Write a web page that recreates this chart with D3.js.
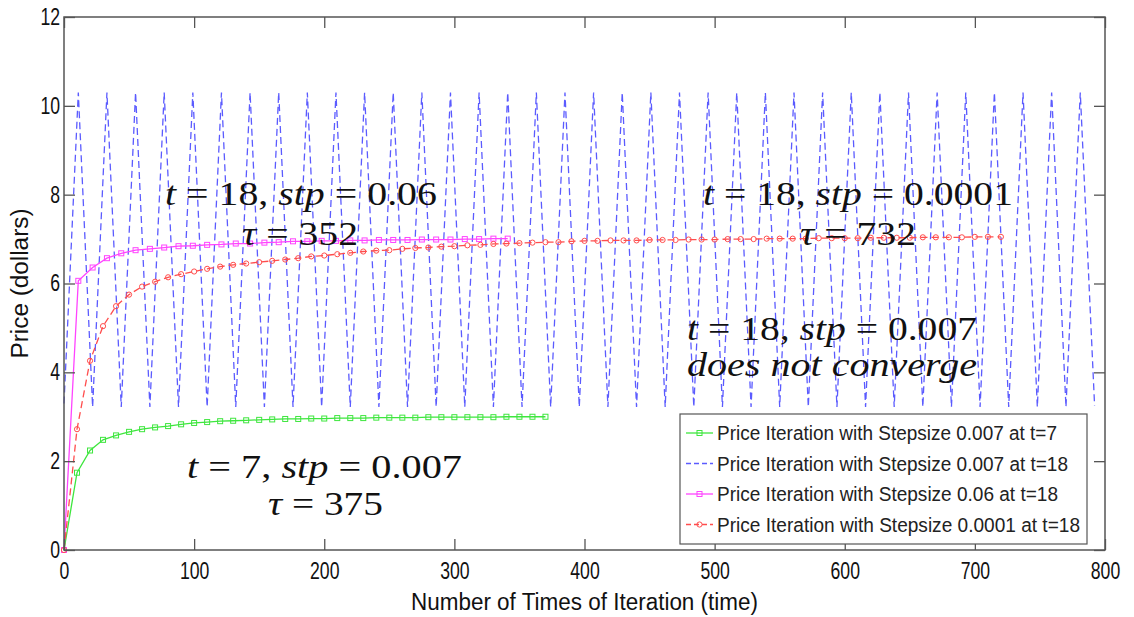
<!DOCTYPE html>
<html>
<head>
<meta charset="utf-8">
<script src="https://cdn.jsdelivr.net/npm/d3@7"></script>
<style>
  body { margin: 0; background: #fff; }
  svg { display: block; }
</style>
</head>
<body>
<div id="chart"></div>
<script>
// iterations and prices
const greenT = [0, 10, 20, 30, 40, 50, 60, 70, 80, 90, 100, 110, 120, 130, 140, 150, 160, 170, 180, 190,
  200, 210, 220, 230, 240, 250, 260, 270, 280, 290, 300, 310, 320, 330, 340, 350, 360, 370];
const greenP = [0, 1.74, 2.24, 2.48, 2.58, 2.66, 2.72, 2.76, 2.79, 2.83, 2.86, 2.88, 2.90, 2.91, 2.92, 2.93,
  2.94, 2.95, 2.95, 2.96, 2.96, 2.97, 2.97, 2.97, 2.98, 2.98, 2.98, 2.98, 2.99, 2.99, 2.99, 2.99, 2.99, 2.99,
  3.0, 3.0, 3.0, 3.0];

const blueT = [0, 11, 22, 33, 44, 55, 66, 77, 88, 99, 110, 121, 132, 143, 154, 165, 176, 187, 198, 209,
  220, 231, 242, 253, 264, 275, 286, 297, 308, 319, 330, 341, 352, 363, 374, 385, 396, 407, 418, 429,
  440, 451, 462, 473, 484, 495, 506, 517, 528, 539, 550, 561, 572, 583, 594, 605, 616, 627, 638, 649,
  660, 671, 682, 693, 704, 715, 726, 737, 748, 759, 770, 781, 792];
const blueP = [3.3, 10.3, 3.22, 10.3, 3.22, 10.3, 3.22, 10.3, 3.22, 10.3, 3.22, 10.3, 3.22, 10.3, 3.22, 10.3,
  3.22, 10.3, 3.22, 10.3, 3.22, 10.3, 3.22, 10.3, 3.22, 10.3, 3.22, 10.3, 3.22, 10.3, 3.22, 10.3, 3.22, 10.3,
  3.22, 10.3, 3.22, 10.3, 3.22, 10.3, 3.22, 10.3, 3.22, 10.3, 3.22, 10.3, 3.22, 10.3, 3.22, 10.3, 3.22, 10.3,
  3.22, 10.3, 3.22, 10.3, 3.22, 10.3, 3.22, 10.3, 3.22, 10.3, 3.22, 10.3, 3.22, 10.3, 3.22, 10.3, 3.22, 10.3,
  3.22, 10.3, 3.25];

const magT = [0, 11, 22, 33, 44, 55, 66, 77, 88, 99, 110, 121, 132, 143, 154, 165, 176, 187, 198, 209,
  220, 231, 242, 253, 264, 275, 286, 297, 308, 319, 330, 341];
const magP = [0, 6.06, 6.36, 6.57, 6.68, 6.75, 6.78, 6.81, 6.84, 6.85, 6.87, 6.88, 6.90, 6.90, 6.92, 6.93,
  6.95, 6.95, 6.96, 6.96, 6.97, 6.97, 6.98, 6.98, 6.98, 6.99, 6.99, 6.99, 7.0, 7.0, 7.01, 7.01];

const redT = [0, 10, 20, 30, 40, 50, 60, 70, 80, 90, 100, 110, 120, 130, 140, 150, 160, 170, 180, 190,
  200, 210, 220, 230, 240, 250, 260, 270, 280, 290, 300, 310, 320, 330, 340, 350, 360, 370, 380, 390,
  400, 410, 420, 430, 440, 450, 460, 470, 480, 490, 500, 510, 520, 530, 540, 550, 560, 570, 580, 590,
  600, 610, 620, 630, 640, 650, 660, 670, 680, 690, 700, 710, 720];
const redP = [0, 2.72, 4.26, 5.04, 5.49, 5.75, 5.93, 6.04, 6.14, 6.21, 6.27, 6.33, 6.38, 6.42, 6.45, 6.48,
  6.51, 6.54, 6.57, 6.61, 6.63, 6.66, 6.69, 6.72, 6.74, 6.75, 6.78, 6.80, 6.81, 6.83, 6.84, 6.86, 6.87, 6.89,
  6.90, 6.91, 6.92, 6.93, 6.93, 6.95, 6.96, 6.96, 6.97, 6.97, 6.97, 6.98, 6.98, 6.98, 6.99, 6.99, 6.99, 7.0,
  7.0, 7.0, 7.01, 7.01, 7.01, 7.01, 7.02, 7.02, 7.02, 7.02, 7.03, 7.03, 7.03, 7.03, 7.04, 7.04, 7.04, 7.04,
  7.05, 7.05, 7.05];

const xTicks = [0, 100, 200, 300, 400, 500, 600, 700, 800];
const yTicks = [0, 2, 4, 6, 8, 10, 12];

const legendLabels = [
  'Price Iteration with Stepsize 0.007 at t=7',
  'Price Iteration with Stepsize 0.007 at t=18',
  'Price Iteration with Stepsize 0.06 at t=18',
  'Price Iteration with Stepsize 0.0001 at t=18'
];
const legendWidths = [340, 351, 341, 363];

const W = 1134, H = 617;
const m = { left: 64, right: 29, top: 17, bottom: 67 };

const svg = d3.select('#chart').append('svg')
  .attr('width', W)
  .attr('height', H);

const x = d3.scaleLinear().domain([0, 800]).range([m.left, W - m.right]);
const y = d3.scaleLinear().domain([0, 12]).range([H - m.bottom, m.top]);

const axisColor = '#555';
const sansFont = '"Liberation Sans", Arial, sans-serif';

// series
const series = [
  { t: greenT, p: greenP, color: '#3ee63e', dash: null, marker: 'square' },
  { t: blueT, p: blueP, color: '#5b5bff', dash: '7,4', marker: null },
  { t: magT, p: magP, color: '#ff44ff', dash: null, marker: 'square' },
  { t: redT, p: redP, color: '#ff4d4d', dash: '7,4', marker: 'circle' }
];

const line = d3.line().x(d => x(d[0])).y(d => y(d[1]));
const plot = svg.append('g');

series.forEach(s => {
  const pts = s.t.map((t, i) => [t, s.p[i]]);
  plot.append('path')
    .attr('d', line(pts))
    .attr('fill', 'none')
    .attr('stroke', s.color)
    .attr('stroke-width', 1.3)
    .attr('stroke-dasharray', s.dash);
  if (s.marker === 'square') {
    plot.selectAll(null).data(pts).enter().append('rect')
      .attr('x', d => x(d[0]) - 2.5)
      .attr('y', d => y(d[1]) - 2.5)
      .attr('width', 5)
      .attr('height', 5)
      .attr('fill', 'none')
      .attr('stroke', s.color)
      .attr('stroke-width', 1);
  } else if (s.marker === 'circle') {
    plot.selectAll(null).data(pts).enter().append('circle')
      .attr('cx', d => x(d[0]))
      .attr('cy', d => y(d[1]))
      .attr('r', 2.6)
      .attr('fill', 'none')
      .attr('stroke', s.color)
      .attr('stroke-width', 1);
  }
});

// frame and ticks (MATLAB style, inward on all sides)
svg.append('rect')
  .attr('x', x(0)).attr('y', y(12))
  .attr('width', x(800) - x(0)).attr('height', y(0) - y(12))
  .attr('fill', 'none')
  .attr('stroke', axisColor)
  .attr('stroke-width', 1.5);

const xAxis = svg.append('g').attr('transform', `translate(0,${y(0)})`)
  .call(d3.axisBottom(x).tickValues(xTicks).tickSize(-11).tickPadding(13));
const xTop = svg.append('g').attr('transform', `translate(0,${y(12)})`)
  .call(d3.axisTop(x).tickValues(xTicks).tickSize(-11).tickFormat(''));
const yAxis = svg.append('g').attr('transform', `translate(${x(0)},0)`)
  .call(d3.axisLeft(y).tickValues(yTicks).tickSize(-11).tickPadding(4));
const yRight = svg.append('g').attr('transform', `translate(${x(800)},0)`)
  .call(d3.axisRight(y).tickValues(yTicks).tickSize(-11).tickFormat(''));

[xAxis, xTop, yAxis, yRight].forEach(g => {
  g.select('.domain').remove();
  g.selectAll('.tick line').attr('stroke', axisColor).attr('stroke-width', 1.3);
  g.selectAll('.tick text')
    .attr('fill', '#111')
    .attr('textLength', d => String(d).length * 9.8)
    .attr('lengthAdjust', 'spacingAndGlyphs')
    .style('font-family', sansFont)
    .style('font-size', '23px');
});

svg.append('text')
  .attr('x', (x(0) + x(800)) / 2)
  .attr('y', 610)
  .attr('text-anchor', 'middle')
  .attr('textLength', 347)
  .attr('lengthAdjust', 'spacingAndGlyphs')
  .attr('fill', '#111')
  .style('font-family', sansFont)
  .style('font-size', '23px')
  .text('Number of Times of Iteration (time)');

svg.append('text')
  .attr('transform', `translate(28,${(y(0) + y(12)) / 2}) rotate(-90)`)
  .attr('text-anchor', 'middle')
  .attr('textLength', 150)
  .attr('lengthAdjust', 'spacingAndGlyphs')
  .attr('fill', '#111')
  .style('font-family', sansFont)
  .style('font-size', '23px')
  .text('Price (dollars)');

// annotations
const notes = [
  { x: 165, y: 205, w: 272, parts: [['t', 1], [' = 18, ', 0], ['stp', 1], [' = 0.06', 0]] },
  { x: 242, y: 245, w: 116, parts: [['τ', 1], [' = 352', 0]] },
  { x: 703, y: 205, w: 310, parts: [['t', 1], [' = 18, ', 0], ['stp', 1], [' = 0.0001', 0]] },
  { x: 800, y: 245, w: 116, parts: [['τ', 1], [' = 732', 0]] },
  { x: 687, y: 340, w: 290, parts: [['t', 1], [' = 18, ', 0], ['stp', 1], [' = 0.007', 0]] },
  { x: 687, y: 376, w: 290, parts: [['does not converge', 1]] },
  { x: 187, y: 478, w: 275, parts: [['t', 1], [' = 7, ', 0], ['stp', 1], [' = 0.007', 0]] },
  { x: 268, y: 515, w: 115, parts: [['τ', 1], [' = 375', 0]] }
];

notes.forEach(n => {
  const t = svg.append('text')
    .attr('x', n.x)
    .attr('y', n.y)
    .attr('textLength', n.w)
    .attr('lengthAdjust', 'spacingAndGlyphs')
    .attr('fill', '#111')
    .style('font-family', '"Liberation Serif", "DejaVu Serif", serif')
    .style('font-size', '34px')
    .attr('xml:space', 'preserve');
  n.parts.forEach(p => {
    t.append('tspan')
      .style('font-style', p[1] ? 'italic' : 'normal')
      .text(p[0]);
  });
});

// legend
const lg = svg.append('g').attr('transform', 'translate(680,414)');
lg.append('rect')
  .attr('width', 407).attr('height', 130)
  .attr('fill', '#fff')
  .attr('stroke', axisColor)
  .attr('stroke-width', 1.2);

series.forEach((s, i) => {
  const cy = 19 + i * 30.5;
  const row = lg.append('g').attr('transform', `translate(0,${cy})`);
  row.append('line')
    .attr('x1', 6).attr('x2', 33)
    .attr('stroke', s.color)
    .attr('stroke-width', 1.3)
    .attr('stroke-dasharray', s.dash ? '5,3' : null);
  if (s.marker === 'square') {
    row.append('rect').attr('x', 17).attr('y', -2.5).attr('width', 5).attr('height', 5)
      .attr('fill', 'none').attr('stroke', s.color);
  } else if (s.marker === 'circle') {
    row.append('circle').attr('cx', 19.5).attr('r', 2.6)
      .attr('fill', 'none').attr('stroke', s.color);
  }
  row.append('text')
    .attr('x', 37)
    .attr('dy', '0.36em')
    .attr('textLength', legendWidths[i])
    .attr('lengthAdjust', 'spacingAndGlyphs')
    .attr('fill', '#222')
    .style('font-family', sansFont)
    .style('font-size', '20px')
    .text(legendLabels[i]);
});
</script>
</body>
</html>
